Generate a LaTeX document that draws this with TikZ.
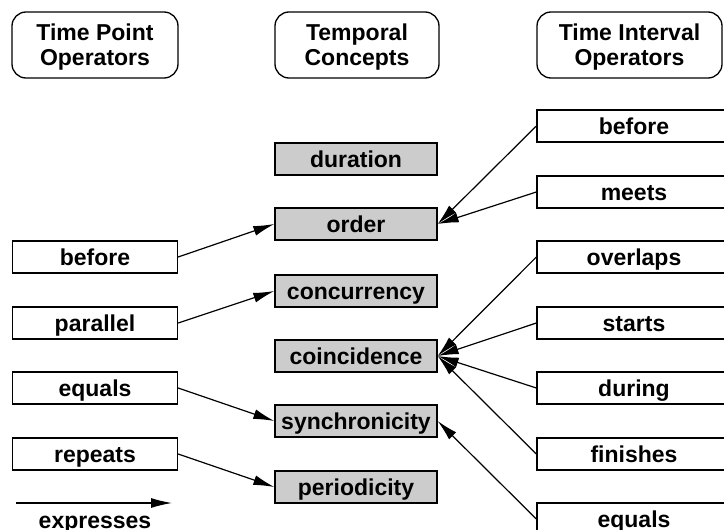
\documentclass[tikz,border=0pt]{standalone}
\usepackage{fontspec}
\setmainfont{Liberation Sans}
\usetikzlibrary{arrows.meta}
\begin{document}
\begin{tikzpicture}[x=1pt,y=-1pt,
  font=\fontsize{23}{25}\selectfont\bfseries,
  header/.style={draw, line width=1.3pt, rounded corners=14pt, align=center,
    minimum height=66pt, inner sep=0pt, text depth=0pt},
  opbox/.style={draw, line width=1.3pt, fill=white, minimum height=32pt, inner sep=0pt,
    text height=16.5pt, text depth=0pt},
  concept/.style={draw, line width=1.3pt, fill=black!20, minimum width=162pt,
    minimum height=32pt, inner sep=0pt, text height=16.5pt, text depth=0pt},
  leftop/.style={opbox, minimum width=165pt},
  rightop/.style={opbox, minimum width=194pt},
  expr/.style={line width=1.2pt, -{Latex[length=21pt,width=10pt]}}
]
\useasboundingbox (0,0) rectangle (724,530);
\clip (0,0) rectangle (724,530);

% column headers
\node[header, minimum width=166pt] (hp) at (95,45) {Time Point\\Operators};
\node[header, minimum width=164pt] (hc) at (357,45) {Temporal\\Concepts};
\node[header, minimum width=185pt] (hi) at (629.5,45) {Time Interval\\Operators};

% temporal concepts
\node[concept] (duration) at (356,159) {duration};
\node[concept] (order) at (356,224) {order};
\node[concept] (concurrency) at (356,291) {concurrency};
\node[concept] (coincidence) at (356,356) {coincidence};
\node[concept] (synchronicity) at (356,421) {synchronicity};
\node[concept] (periodicity) at (356,487) {periodicity};

% time point operators
\node[leftop] (pbefore) at (95,257) {before};
\node[leftop] (pparallel) at (95,323) {parallel};
\node[leftop] (pequals) at (95,388) {equals};
\node[leftop] (prepeats) at (95,454) {repeats};

% time interval operators
\node[rightop] (ibefore) at (634,126) {before};
\node[rightop] (imeets) at (634,192) {meets};
\node[rightop] (ioverlaps) at (634,257) {overlaps};
\node[rightop] (istarts) at (634,323) {starts};
\node[rightop] (iduring) at (634,388) {during};
\node[rightop] (ifinishes) at (634,454) {finishes};
\node[rightop] (iequals) at (634,519) {equals};

% point operators express concepts
\draw[expr] (pbefore.east) -- (order.west);
\draw[expr] (pparallel.east) -- (concurrency.west);
\draw[expr] (pequals.east) -- (synchronicity.west);
\draw[expr] (prepeats.east) -- (periodicity.west);

% interval operators express concepts
\draw[expr] (ibefore.west) -- (order.east);
\draw[expr] (imeets.west) -- (order.east);
\draw[expr] (ioverlaps.west) -- (coincidence.east);
\draw[expr] (istarts.west) -- (coincidence.east);
\draw[expr] (iduring.west) -- (coincidence.east);
\draw[expr] (ifinishes.west) -- (coincidence.east);
\draw[expr] (iequals.west) -- (synchronicity.east);

% legend
\coordinate (la) at (16,503);
\coordinate (lb) at (172,503);
\draw[expr] (la) -- (lb);
\node[anchor=base, inner sep=0pt] (legend) at (95,528) {expresses};
\end{tikzpicture}
\end{document}
